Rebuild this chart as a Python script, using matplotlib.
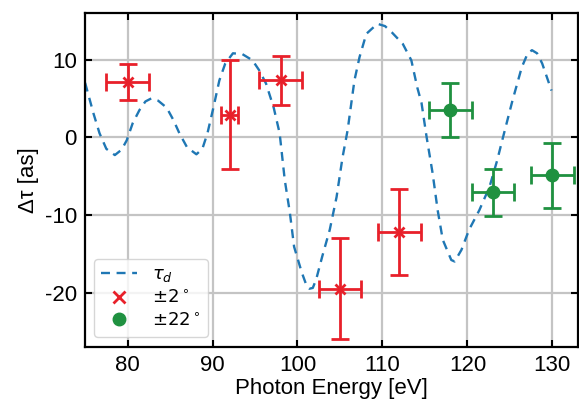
import matplotlib
matplotlib.use("Agg")
import matplotlib.pyplot as plt
from matplotlib.lines import Line2D

plt.rcParams['font.family'] = ['Liberation Sans', 'DejaVu Sans']
plt.rcParams['axes.unicode_minus'] = False

# theory curve tau_d
curve_x = [75.0, 76.0, 76.7, 77.5, 78.5, 79.3, 79.9, 80.6, 81.4, 82.1, 82.8, 83.6,
           84.6, 85.4, 86.1, 87.0, 88.1, 88.8, 89.4, 90.1, 90.8, 91.5, 92.4, 93.5,
           94.7, 95.5, 96.3, 97.2, 97.9, 98.5, 99.1, 99.6, 100.5, 101.1, 101.4,
           101.8, 102.2, 102.9, 103.8, 104.6, 105.3, 105.9, 106.7, 107.3, 108.1, 109.4,
           110.3, 111.1, 112.4, 113.4, 114.1, 114.6, 115.2, 115.9, 116.5, 117.1,
           118.1, 118.5, 119.3, 120.2, 121.4, 122.6, 123.5, 124.1, 125.3, 126.4,
           127.1, 127.6, 128.2, 128.8, 129.9]
curve_y = [7.0, 3.0, 0.5, -1.5, -2.3, -1.6, -0.4, 1.8, 3.5, 4.6, 5.0, 4.7,
           3.8, 2.2, 0.5, -1.3, -2.2, -1.5, 0.5, 3.8, 7.3, 9.5, 10.8, 10.7,
           9.9, 8.6, 6.9, 3.8, 0.5, -5.5, -9.7, -14.1, -17.4, -19.2, -19.5,
           -19.4, -18.3, -15.4, -11.9, -7.7, -2.6, 0.9, 7.3, 10.3, 13.3, 14.6,
           14.3, 13.5, 12.0, 9.9, 6.4, 4.4, 0.0, -4.6, -9.4, -13.2,
           -15.8, -16.0, -14.5, -11.9, -9.4, -6.4, -3.0, -0.4, 4.7, 9.0,
           10.8, 11.2, 10.8, 9.5, 6.0]

# +-2 degree data
red_x = [80, 92, 98, 105, 112]
red_y = [7.1, 2.9, 7.3, -19.5, -12.2]
red_yerr = [2.3, 7.0, 3.1, 6.5, 5.5]
red_xerr = [2.5, 1.0, 2.5, 2.5, 2.5]

# +-22 degree data
green_x = [118, 123, 130]
green_y = [3.5, -7.1, -4.9]
green_yerr = [3.5, 3.0, 4.2]
green_xerr = [2.5, 2.5, 2.5]

xticks = [80, 90, 100, 110, 120, 130]
yticks = [-20, -10, 0, 10]

blue = '#1f77b4'
red = '#e8202a'
green = '#1f9140'
dash = (0, (3.8, 2.8))

fig = plt.figure(figsize=(5.79, 4.03), dpi=100)
ax = fig.add_axes([0.147, 0.139, 0.851, 0.829])

ax.plot(curve_x, curve_y, color=blue, lw=1.7, linestyle=dash, zorder=2)
ax.errorbar(red_x, red_y, yerr=red_yerr, xerr=red_xerr, fmt='x', color=red,
            ms=7, mew=2, elinewidth=2, capsize=6.5, capthick=2, zorder=3)
ax.errorbar(green_x, green_y, yerr=green_yerr, xerr=green_xerr, fmt='o', color=green,
            ms=9, elinewidth=2, capsize=6.5, capthick=2, zorder=3)

ax.set_xlim(75, 133)
ax.set_ylim(-27, 16)
ax.set_xticks(xticks)
ax.set_yticks(yticks)
ax.grid(True, color='#c4c4c4', lw=1.6)
ax.set_axisbelow(True)
ax.tick_params(direction='in', top=True, right=True, length=5, width=1.5,
               labelsize=16, pad=6)
for s in ax.spines.values():
    s.set_linewidth(1.6)

ax.set_xlabel('Photon Energy [eV]', fontsize=16, labelpad=1)
ax.set_ylabel('Δτ [as]', fontsize=16, labelpad=4)

handles = [
    Line2D([], [], color=blue, lw=1.7, linestyle=dash),
    Line2D([], [], color=red, marker='x', ls='none', ms=8, mew=2),
    Line2D([], [], color=green, marker='o', ls='none', ms=9),
]
labels = [r'$\tau_d$', r'$\pm2^\circ$', r'$\pm22^\circ$']
ax.legend(handles, labels, loc='lower left', bbox_to_anchor=(0.018, 0.03),
          borderaxespad=0, fontsize=13, labelspacing=0.3)

fig.savefig('out.png', dpi=100)
